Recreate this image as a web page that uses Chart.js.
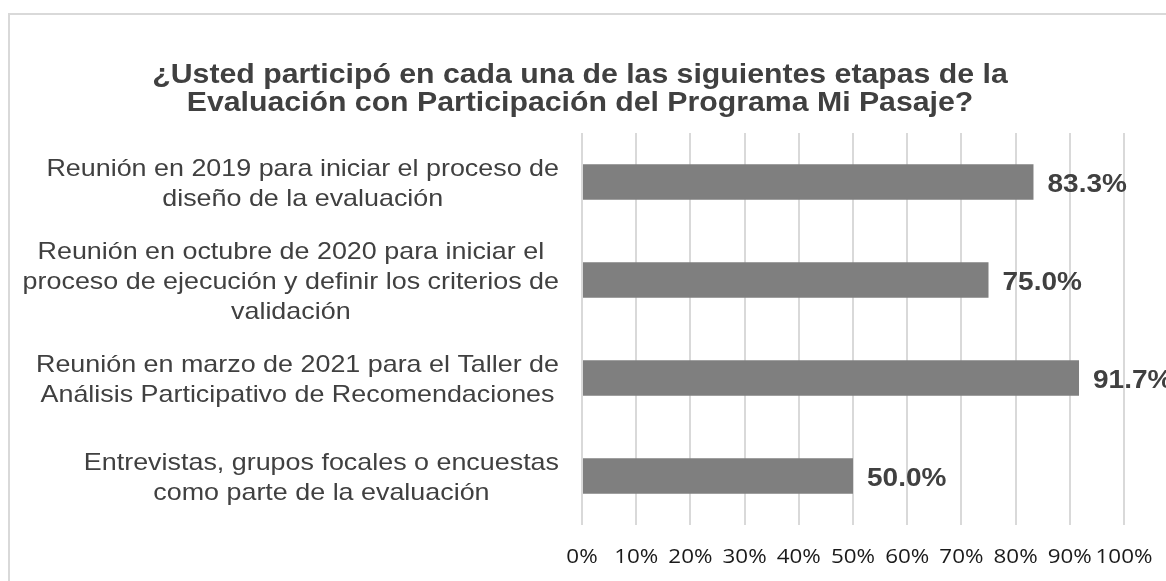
<!DOCTYPE html>
<html>
<head>
<meta charset="utf-8">
<script src="https://cdn.jsdelivr.net/npm/chart.js@4/dist/chart.umd.min.js"></script>
<style>
  html, body { margin: 0; padding: 0; background: #fff; }
  #wrap { width: 1166px; height: 581px; }
</style>
</head>
<body>
<div id="wrap"><canvas id="barChart"></canvas></div>
<script>
const categories = [
    ['Reunión en 2019 para iniciar el proceso de', 'diseño de la evaluación'],
    ['Reunión en octubre de 2020 para iniciar el', 'proceso de ejecución y definir los criterios de', 'validación'],
    ['Reunión en marzo de 2021 para el Taller de', 'Análisis Participativo de Recomendaciones'],
    ['Entrevistas, grupos focales o encuestas', 'como parte de la evaluación']
];
const values = [83.3, 75.0, 91.7, 50.0];
const tickLabels = ['0%', '10%', '20%', '30%', '40%', '50%', '60%', '70%', '80%', '90%', '100%'];
const titleLines = [
    '¿Usted participó en cada una de las siguientes etapas de la',
    'Evaluación con Participación del Programa Mi Pasaje?'
];

// the source picture is slightly wider than tall, so text is drawn a little stretched
const SX = 1.12;

function wideText(ctx, text, x, y, align) {
    ctx.save();
    ctx.translate(x, y);
    ctx.scale(SX, 1);
    ctx.textAlign = align;
    ctx.fillText(text, 0, 0);
    ctx.restore();
}

// frame round the chart (only top and left fall inside the picture)
const framePlugin = {
    id: 'frame',
    beforeDraw(chart) {
        const ctx = chart.ctx;
        ctx.save();
        ctx.strokeStyle = '#d9d9d9';
        ctx.lineWidth = 2;
        ctx.strokeRect(9, 14, 1200, 700);
        ctx.restore();
    }
};

const titlePlugin = {
    id: 'wideTitle',
    afterDraw(chart) {
        const ctx = chart.ctx;
        ctx.save();
        ctx.font = 'bold 27px "Liberation Sans", Arial, sans-serif';
        ctx.fillStyle = '#404040';
        ctx.textBaseline = 'middle';
        wideText(ctx, titleLines[0], 580, 76, 'center');
        wideText(ctx, titleLines[1], 580, 104, 'center');
        ctx.restore();
    }
};

// category labels: each block centred on its own widest line, right edge near the axis
const catLabelPlugin = {
    id: 'catLabels',
    afterDraw(chart) {
        const ctx = chart.ctx;
        const y = chart.scales.y;
        const right = 559;
        const lh = 30;
        ctx.save();
        ctx.font = '24px "Liberation Sans", Arial, sans-serif';
        ctx.fillStyle = '#404040';
        ctx.textBaseline = 'middle';
        categories.forEach((lines, i) => {
            const w = Math.max(...lines.map(l => ctx.measureText(l).width)) * SX;
            const cx = right - w / 2;
            const cy = y.getPixelForValue(i) + 2;
            const top = cy - (lines.length - 1) * lh / 2;
            lines.forEach((l, j) => wideText(ctx, l, cx, top + j * lh, 'center'));
        });
        ctx.restore();
    }
};

// x tick labels, taken from the x scale
const tickPlugin = {
    id: 'xTicks',
    afterDraw(chart) {
        const ctx = chart.ctx;
        const x = chart.scales.x;
        ctx.save();
        ctx.font = '20px "Open Sans", "Noto Sans", sans-serif';
        ctx.fillStyle = '#1a1a1a';
        ctx.textBaseline = 'middle';
        tickLabels.forEach((t, i) => {
            wideText(ctx, t, x.getPixelForValue(i * 10), chart.chartArea.bottom + 32, 'center');
        });
        ctx.restore();
    }
};

// value labels at the end of each bar
const valueLabelPlugin = {
    id: 'valueLabels',
    afterDatasetsDraw(chart) {
        const ctx = chart.ctx;
        const meta = chart.getDatasetMeta(0);
        ctx.save();
        ctx.font = 'bold 25px "Liberation Sans", Arial, sans-serif';
        ctx.fillStyle = '#404040';
        ctx.textBaseline = 'middle';
        meta.data.forEach((bar, i) => {
            wideText(ctx, values[i].toFixed(1) + '%', bar.x + 14, bar.y + 3, 'left');
        });
        ctx.restore();
    }
};

const ctx = document.getElementById('barChart').getContext('2d');
new Chart(ctx, {
    type: 'bar',
    data: {
        labels: categories.map(c => c.join(' ')),
        datasets: [{
            data: values,
            backgroundColor: '#7f7f7f',
            barPercentage: 0.6,
            categoryPercentage: 0.6
        }]
    },
    options: {
        indexAxis: 'y',
        responsive: true,
        maintainAspectRatio: false,
        animation: false,
        layout: { padding: { top: 133, right: 42, bottom: 0, left: 0 } },
        plugins: {
            legend: { display: false },
            tooltip: { enabled: false },
            title: { display: false }
        },
        scales: {
            x: {
                min: 0,
                max: 100,
                border: { display: false },
                grid: { color: '#d9d9d9', lineWidth: 2, drawTicks: false },
                ticks: { stepSize: 10, display: false },
                afterFit(scale) { scale.height = 56; }
            },
            y: {
                border: { display: false },
                grid: { display: false },
                ticks: { display: false },
                afterFit(scale) { scale.width = 582; }
            }
        }
    },
    plugins: [framePlugin, titlePlugin, catLabelPlugin, tickPlugin, valueLabelPlugin]
});
</script>
</body>
</html>
